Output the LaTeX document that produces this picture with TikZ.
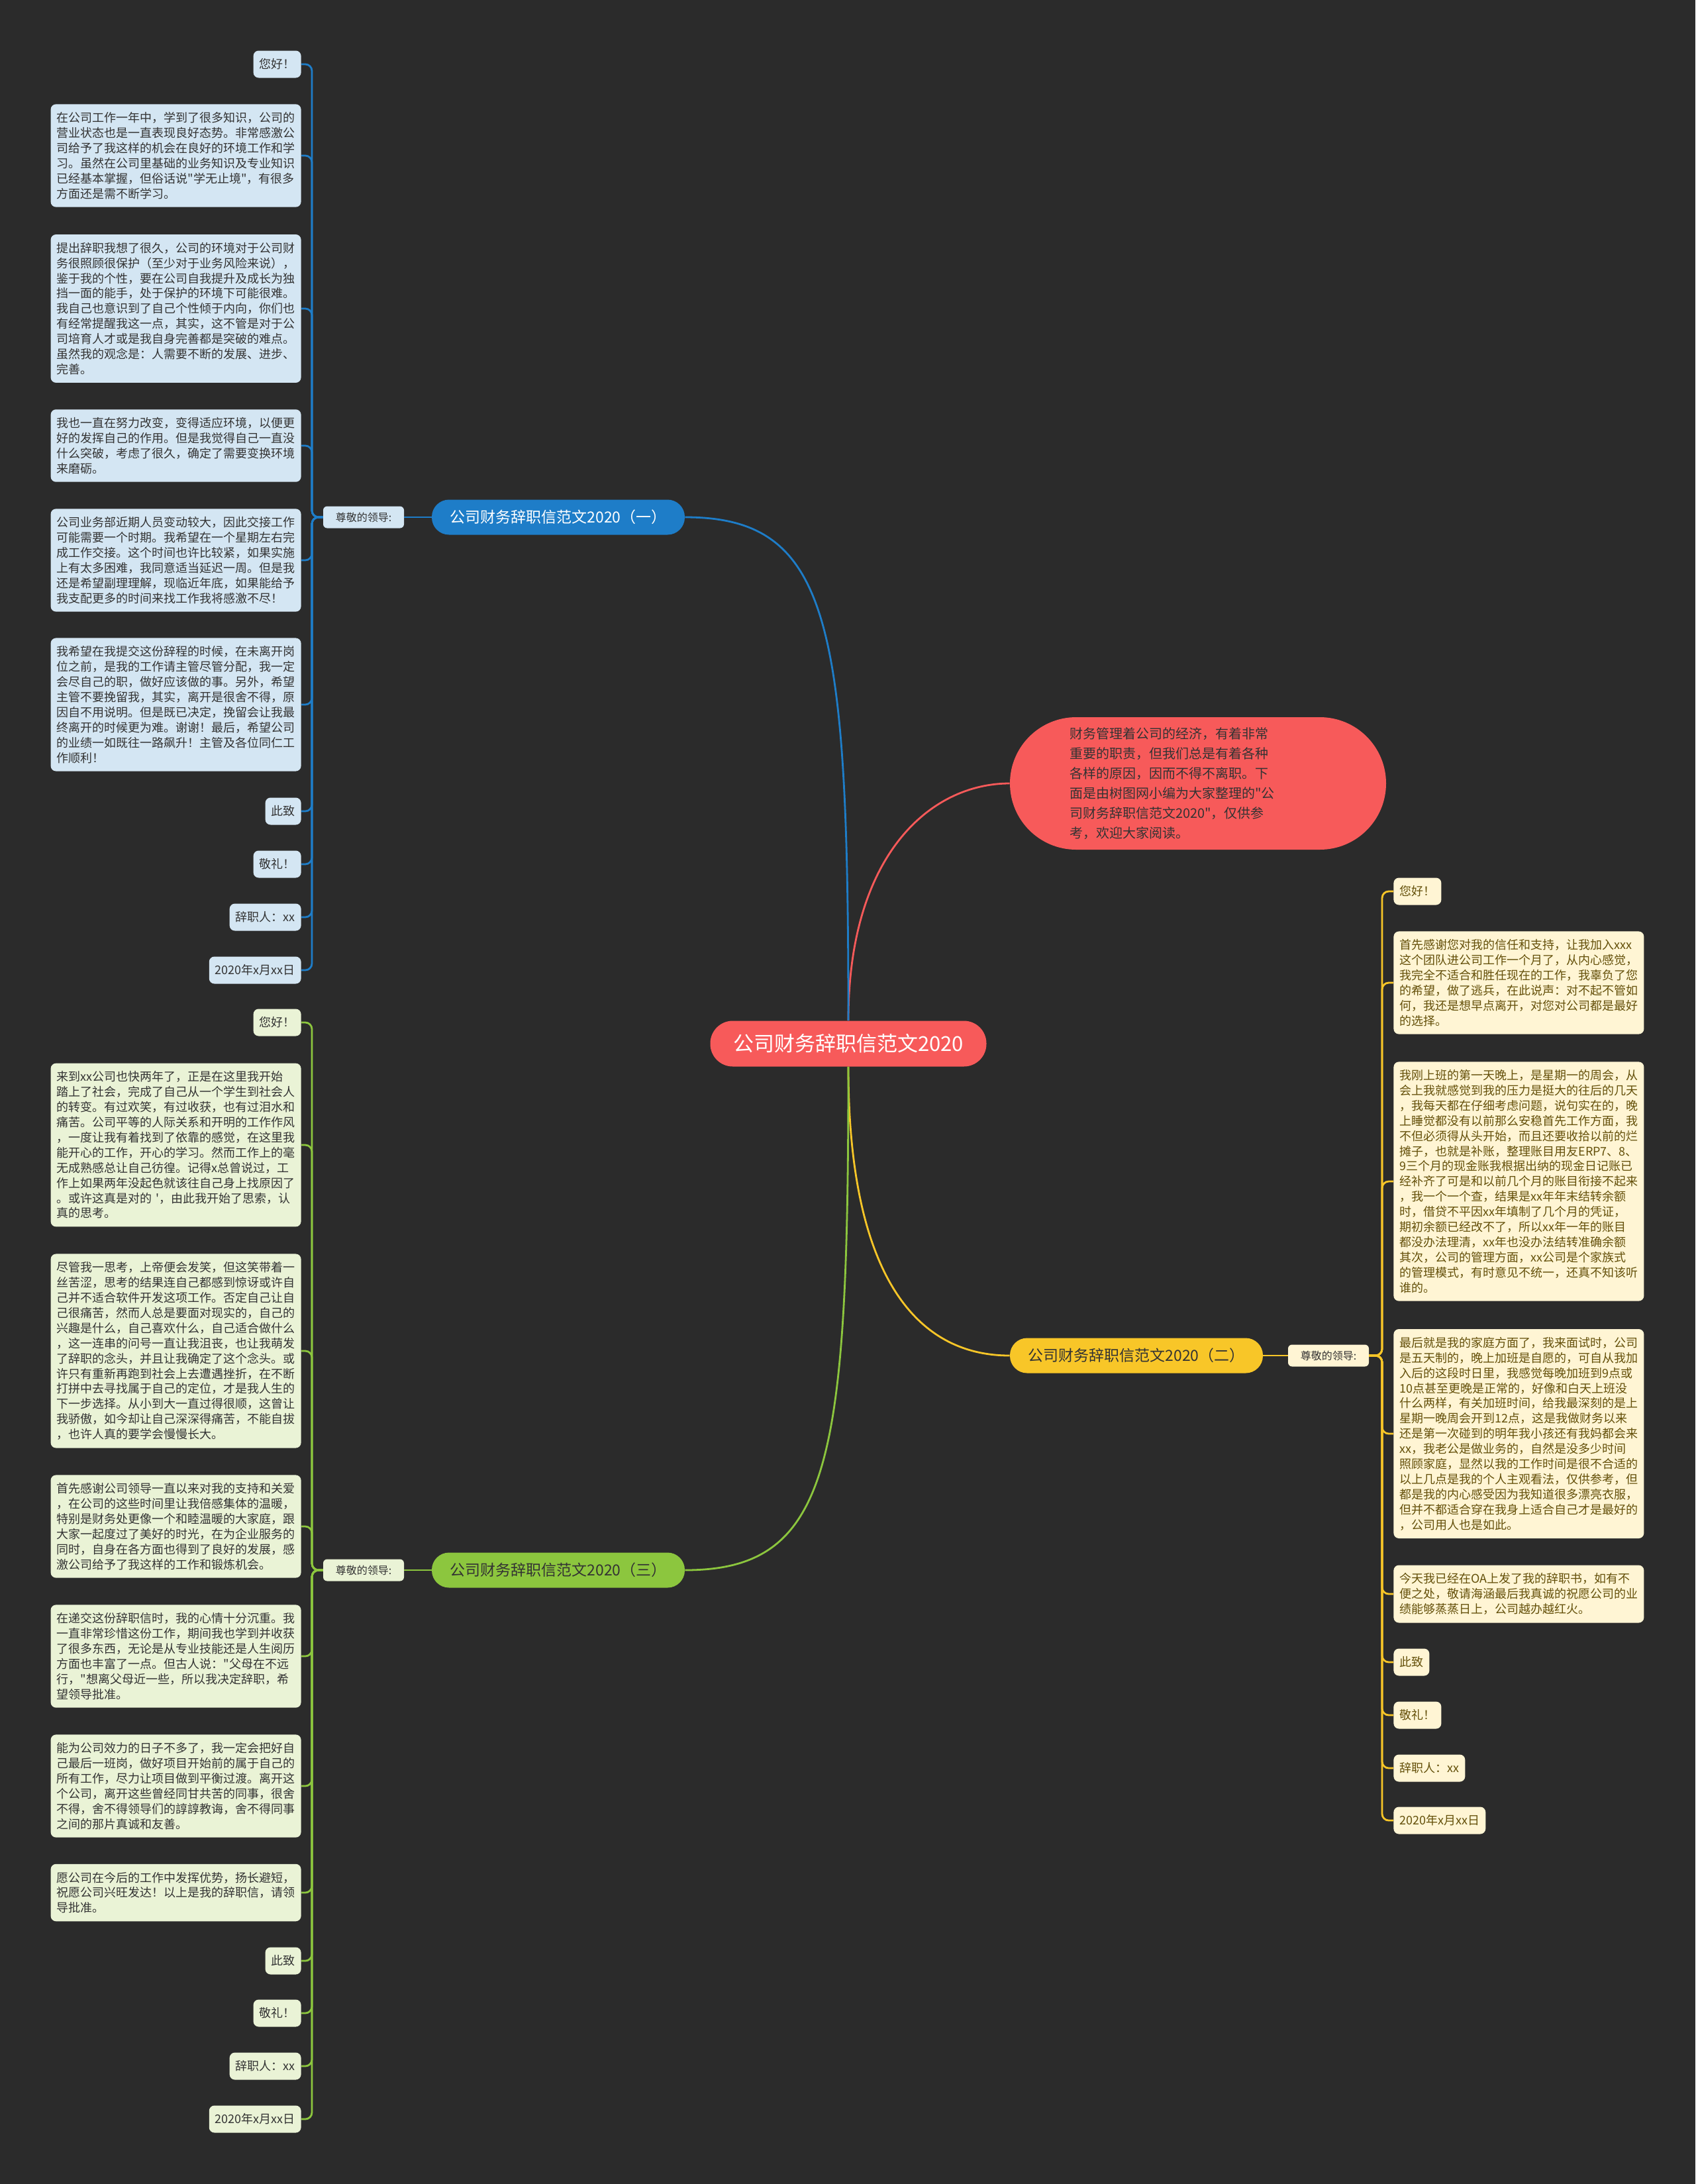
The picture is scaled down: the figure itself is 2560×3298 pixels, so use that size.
\documentclass[tikz,border=0pt]{standalone}
\usepackage{fontspec}
\setmainfont{Noto Sans CJK SC}[Ligatures=TeXOff]
\usepackage{tikz}
\usetikzlibrary{positioning, calc}
\definecolor{bgdark}{RGB}{43, 43, 43}
\definecolor{rootred}{RGB}{247, 90, 90}
\definecolor{bluemain}{RGB}{30, 125, 200}
\definecolor{bluelight}{RGB}{212, 230, 243}
\definecolor{greenmain}{RGB}{140, 198, 62}
\definecolor{greenlight}{RGB}{234, 243, 214}
\definecolor{yellowmain}{RGB}{248, 198, 40}
\definecolor{yellowlight}{RGB}{255, 245, 212}
\definecolor{textdark}{RGB}{51, 51, 51}
\definecolor{textbrown}{RGB}{100, 80, 10}

\begin{document}
\begin{tikzpicture}[x=0.5pt, y=-0.5pt,
  rootnode/.style={rectangle, fill=rootred, rounded corners=17pt, text=white,
      minimum width=208.5pt, minimum height=34.5pt, font=\fontsize{15.5pt}{18pt}\selectfont},
  branch/.style={rectangle, rounded corners=13pt, minimum width=191pt,
      minimum height=26.5pt, font=\fontsize{11.5pt}{13pt}\selectfont},
  tag/.style={rectangle, rounded corners=3pt, minimum width=61pt,
      minimum height=16.5pt, inner sep=2pt, text=textdark, font=\fontsize{8pt}{10pt}\selectfont},
  leaf/.style={rectangle, rounded corners=4pt, inner xsep=4.5pt, inner ysep=6pt,
      align=left, font=\fontsize{9pt}{11.45pt}\selectfont},
  longleaf/.style={leaf, text width=180pt},
  shortleaf/.style={leaf, minimum height=20.5pt, inner ysep=0pt},
  blueleaf/.style={fill=bluelight, text=textdark, anchor=east},
  greenleaf/.style={fill=greenlight, text=textdark, anchor=east},
  yellowleaf/.style={fill=yellowlight, text=textbrown, anchor=west},
  link/.style={line width=1.4pt},
  trunk/.style={line width=1.4pt, rounded corners=5pt}]

\useasboundingbox (0,0) rectangle (2560,3298);
\fill[bgdark] (0,0) rectangle (2560,3298);

% Root and intro
\node[rootnode] (root) at (1281,1576) {公司财务辞职信范文2020};
\node[rectangle, fill=rootred, rounded corners=50pt, minimum width=284pt,
      minimum height=100pt, text width=194pt, align=left, text=textdark,
      font=\fontsize{10pt}{15pt}\selectfont] (intro) at (1809,1183)
      {财务管理着公司的经济，有着非常\\
       重要的职责，但我们总是有着各种\\
       各样的原因，因而不得不离职。下\\
       面是由树图网小编为大家整理的"公\\
       司财务辞职信范文2020"，仅供参\\
       考，欢迎大家阅读。};

% Branches
\node[branch, fill=bluemain, text=white] (b1) at (843,781) {公司财务辞职信范文2020（一）};
\node[branch, fill=yellowmain, text=textdark] (b2) at (1716,2047) {公司财务辞职信范文2020（二）};
\node[branch, fill=greenmain, text=textdark] (b3) at (843,2371) {公司财务辞职信范文2020（三）};

\node[tag, fill=bluelight] (lab1) at (549,781) {尊敬的领导:};
\node[tag, fill=yellowlight] (lab2) at (2006,2047) {尊敬的领导:};
\node[tag, fill=greenlight] (lab3) at (549,2371) {尊敬的领导:};

\coordinate (t1) at (471,781);
\coordinate (t2) at (2087,2047);
\coordinate (t3) at (471,2371);

% Branch (一) leaves
\node[shortleaf, blueleaf] (l1a) at (455,97) {您好！};
\node[longleaf, blueleaf] (l1b) at (455,235)
  {在公司工作一年中，学到了很多知识，公司的\\
   营业状态也是一直表现良好态势。非常感激公\\
   司给予了我这样的机会在良好的环境工作和学\\
   习。虽然在公司里基础的业务知识及专业知识\\
   已经基本掌握，但俗话说"学无止境"，有很多\\
   方面还是需不断学习。};
\node[longleaf, blueleaf] (l1c) at (455,466)
  {提出辞职我想了很久，公司的环境对于公司财\\
   务很照顾很保护（至少对于业务风险来说），\\
   鉴于我的个性，要在公司自我提升及成长为独\\
   挡一面的能手，处于保护的环境下可能很难。\\
   我自己也意识到了自己个性倾于内向，你们也\\
   有经常提醒我这一点，其实，这不管是对于公\\
   司培育人才或是我自身完善都是突破的难点。\\
   虽然我的观念是：人需要不断的发展、进步、\\
   完善。};
\node[longleaf, blueleaf] (l1d) at (455,673)
  {我也一直在努力改变，变得适应环境，以便更\\
   好的发挥自己的作用。但是我觉得自己一直没\\
   什么突破，考虑了很久，确定了需要变换环境\\
   来磨砺。};
\node[longleaf, blueleaf] (l1e) at (455,846)
  {公司业务部近期人员变动较大，因此交接工作\\
   可能需要一个时期。我希望在一个星期左右完\\
   成工作交接。这个时间也许比较紧，如果实施\\
   上有太多困难，我同意适当延迟一周。但是我\\
   还是希望副理理解，现临近年底，如果能给予\\
   我支配更多的时间来找工作我将感激不尽！};
\node[longleaf, blueleaf] (l1f) at (455,1064)
  {我希望在我提交这份辞程的时候，在未离开岗\\
   位之前，是我的工作请主管尽管分配，我一定\\
   会尽自己的职，做好应该做的事。另外，希望\\
   主管不要挽留我，其实，离开是很舍不得，原\\
   因自不用说明。但是既已决定，挽留会让我最\\
   终离开的时候更为难。谢谢！最后，希望公司\\
   的业绩一如既往一路飙升！主管及各位同仁工\\
   作顺利！};
\node[shortleaf, blueleaf] (l1g) at (455,1225) {此致};
\node[shortleaf, blueleaf] (l1h) at (455,1305) {敬礼！};
\node[shortleaf, blueleaf] (l1i) at (455,1385) {辞职人：xx};
\node[shortleaf, blueleaf] (l1j) at (455,1465) {2020年x月xx日};

% Branch (二) leaves
\node[shortleaf, yellowleaf] (l2a) at (2104,1346) {您好！};
\node[longleaf, yellowleaf] (l2b) at (2104,1484)
  {首先感谢您对我的信任和支持，让我加入xxx\\
   这个团队进公司工作一个月了，从内心感觉，\\
   我完全不适合和胜任现在的工作，我辜负了您\\
   的希望，做了逃兵，在此说声：对不起不管如\\
   何，我还是想早点离开，对您对公司都是最好\\
   的选择。};
\node[longleaf, yellowleaf] (l2c) at (2104,1784)
  {我刚上班的第一天晚上，是星期一的周会，从\\
   会上我就感觉到我的压力是挺大的往后的几天\\
   ，我每天都在仔细考虑问题，说句实在的，晚\\
   上睡觉都没有以前那么安稳首先工作方面，我\\
   不但必须得从头开始，而且还要收拾以前的烂\\
   摊子，也就是补账，整理账目用友ERP7、8、\\
   9三个月的现金账我根据出纳的现金日记账已\\
   经补齐了可是和以前几个月的账目衔接不起来\\
   ，我一个一个查，结果是xx年年末结转余额\\
   时，借贷不平因xx年填制了几个月的凭证，\\
   期初余额已经改不了，所以xx年一年的账目\\
   都没办法理清，xx年也没办法结转准确余额\\
   其次，公司的管理方面，xx公司是个家族式\\
   的管理模式，有时意见不统一，还真不知该听\\
   谁的。};
\node[longleaf, yellowleaf] (l2d) at (2104,2165)
  {最后就是我的家庭方面了，我来面试时，公司\\
   是五天制的，晚上加班是自愿的，可自从我加\\
   入后的这段时日里，我感觉每晚加班到9点或\\
   10点甚至更晚是正常的，好像和白天上班没\\
   什么两样，有关加班时间，给我最深刻的是上\\
   星期一晚周会开到12点，这是我做财务以来\\
   还是第一次碰到的明年我小孩还有我妈都会来\\
   xx，我老公是做业务的，自然是没多少时间\\
   照顾家庭，显然以我的工作时间是很不合适的\\
   以上几点是我的个人主观看法，仅供参考，但\\
   都是我的内心感受因为我知道很多漂亮衣服，\\
   但并不都适合穿在我身上适合自己才是最好的\\
   ，公司用人也是如此。};
\node[longleaf, yellowleaf] (l2e) at (2104,2407)
  {今天我已经在OA上发了我的辞职书，如有不\\
   便之处，敬请海涵最后我真诚的祝愿公司的业\\
   绩能够蒸蒸日上，公司越办越红火。};
\node[shortleaf, yellowleaf] (l2f) at (2104,2510) {此致};
\node[shortleaf, yellowleaf] (l2g) at (2104,2590) {敬礼！};
\node[shortleaf, yellowleaf] (l2h) at (2104,2670) {辞职人：xx};
\node[shortleaf, yellowleaf] (l2i) at (2104,2749) {2020年x月xx日};

% Branch (三) leaves
\node[shortleaf, greenleaf] (l3a) at (455,1544) {您好！};
\node[longleaf, greenleaf] (l3b) at (455,1729)
  {来到xx公司也快两年了，正是在这里我开始\\
   踏上了社会，完成了自己从一个学生到社会人\\
   的转变。有过欢笑，有过收获，也有过泪水和\\
   痛苦。公司平等的人际关系和开明的工作作风\\
   ，一度让我有着找到了依靠的感觉，在这里我\\
   能开心的工作，开心的学习。然而工作上的毫\\
   无成熟感总让自己彷徨。记得x总曾说过，工\\
   作上如果两年没起色就该往自己身上找原因了\\
   。或许这真是对的~'，由此我开始了思索，认\\
   真的思考。};
\node[longleaf, greenleaf] (l3c) at (455,2040)
  {尽管我一思考，上帝便会发笑，但这笑带着一\\
   丝苦涩，思考的结果连自己都感到惊讶或许自\\
   己并不适合软件开发这项工作。否定自己让自\\
   己很痛苦，然而人总是要面对现实的，自己的\\
   兴趣是什么，自己喜欢什么，自己适合做什么\\
   ，这一连串的问号一直让我沮丧，也让我萌发\\
   了辞职的念头，并且让我确定了这个念头。或\\
   许只有重新再跑到社会上去遭遇挫折，在不断\\
   打拼中去寻找属于自己的定位，才是我人生的\\
   下一步选择。从小到大一直过得很顺，这曾让\\
   我骄傲，如今却让自己深深得痛苦，不能自拔\\
   ，也许人真的要学会慢慢长大。};
\node[longleaf, greenleaf] (l3d) at (455,2305)
  {首先感谢公司领导一直以来对我的支持和关爱\\
   ，在公司的这些时间里让我倍感集体的温暖，\\
   特别是财务处更像一个和睦温暖的大家庭，跟\\
   大家一起度过了美好的时光，在为企业服务的\\
   同时，自身在各方面也得到了良好的发展，感\\
   激公司给予了我这样的工作和锻炼机会。};
\node[longleaf, greenleaf] (l3e) at (455,2501)
  {在递交这份辞职信时，我的心情十分沉重。我\\
   一直非常珍惜这份工作，期间我也学到并收获\\
   了很多东西，无论是从专业技能还是人生阅历\\
   方面也丰富了一点。但古人说："父母在不远\\
   行，"想离父母近一些，所以我决定辞职，希\\
   望领导批准。};
\node[longleaf, greenleaf] (l3f) at (455,2697)
  {能为公司效力的日子不多了，我一定会把好自\\
   己最后一班岗，做好项目开始前的属于自己的\\
   所有工作，尽力让项目做到平衡过渡。离开这\\
   个公司，离开这些曾经同甘共苦的同事，很舍\\
   不得，舍不得领导们的諄諄教诲，舍不得同事\\
   之间的那片真诚和友善。};
\node[longleaf, greenleaf] (l3g) at (455,2858)
  {愿公司在今后的工作中发挥优势，扬长避短，\\
   祝愿公司兴旺发达！以上是我的辞职信，请领\\
   导批准。};
\node[shortleaf, greenleaf] (l3h) at (455,2961) {此致};
\node[shortleaf, greenleaf] (l3i) at (455,3040) {敬礼！};
\node[shortleaf, greenleaf] (l3j) at (455,3120) {辞职人：xx};
\node[shortleaf, greenleaf] (l3k) at (455,3200) {2020年x月xx日};

% Root links
\draw[link, draw=rootred] (root.north) .. controls +(0,-250) and +(-120,0) .. (intro.west);
\draw[link, draw=bluemain] (root.north) .. controls +(0,-600) and +(220,0) .. (b1.east);
\draw[link, draw=yellowmain] (root.south) .. controls +(0,300) and +(-150,0) .. (b2.west);
\draw[link, draw=greenmain] (root.south) .. controls +(0,600) and +(220,0) .. (b3.east);

% Branch to tag
\draw[link, draw=bluemain] (b1) -- (lab1);
\draw[link, draw=yellowmain] (b2) -- (lab2);
\draw[link, draw=greenmain] (b3) -- (lab3);

% Trunks
\foreach \n in {a,b,c,d,e,f,g,h,i,j}
  \draw[trunk, draw=bluemain] (lab1.west) -- (t1) |- (l1\n.east);
\foreach \n in {a,b,c,d,e,f,g,h,i}
  \draw[trunk, draw=yellowmain] (lab2.east) -- (t2) |- (l2\n.west);
\foreach \n in {a,b,c,d,e,f,g,h,i,j,k}
  \draw[trunk, draw=greenmain] (lab3.west) -- (t3) |- (l3\n.east);

\end{tikzpicture}
\end{document}
